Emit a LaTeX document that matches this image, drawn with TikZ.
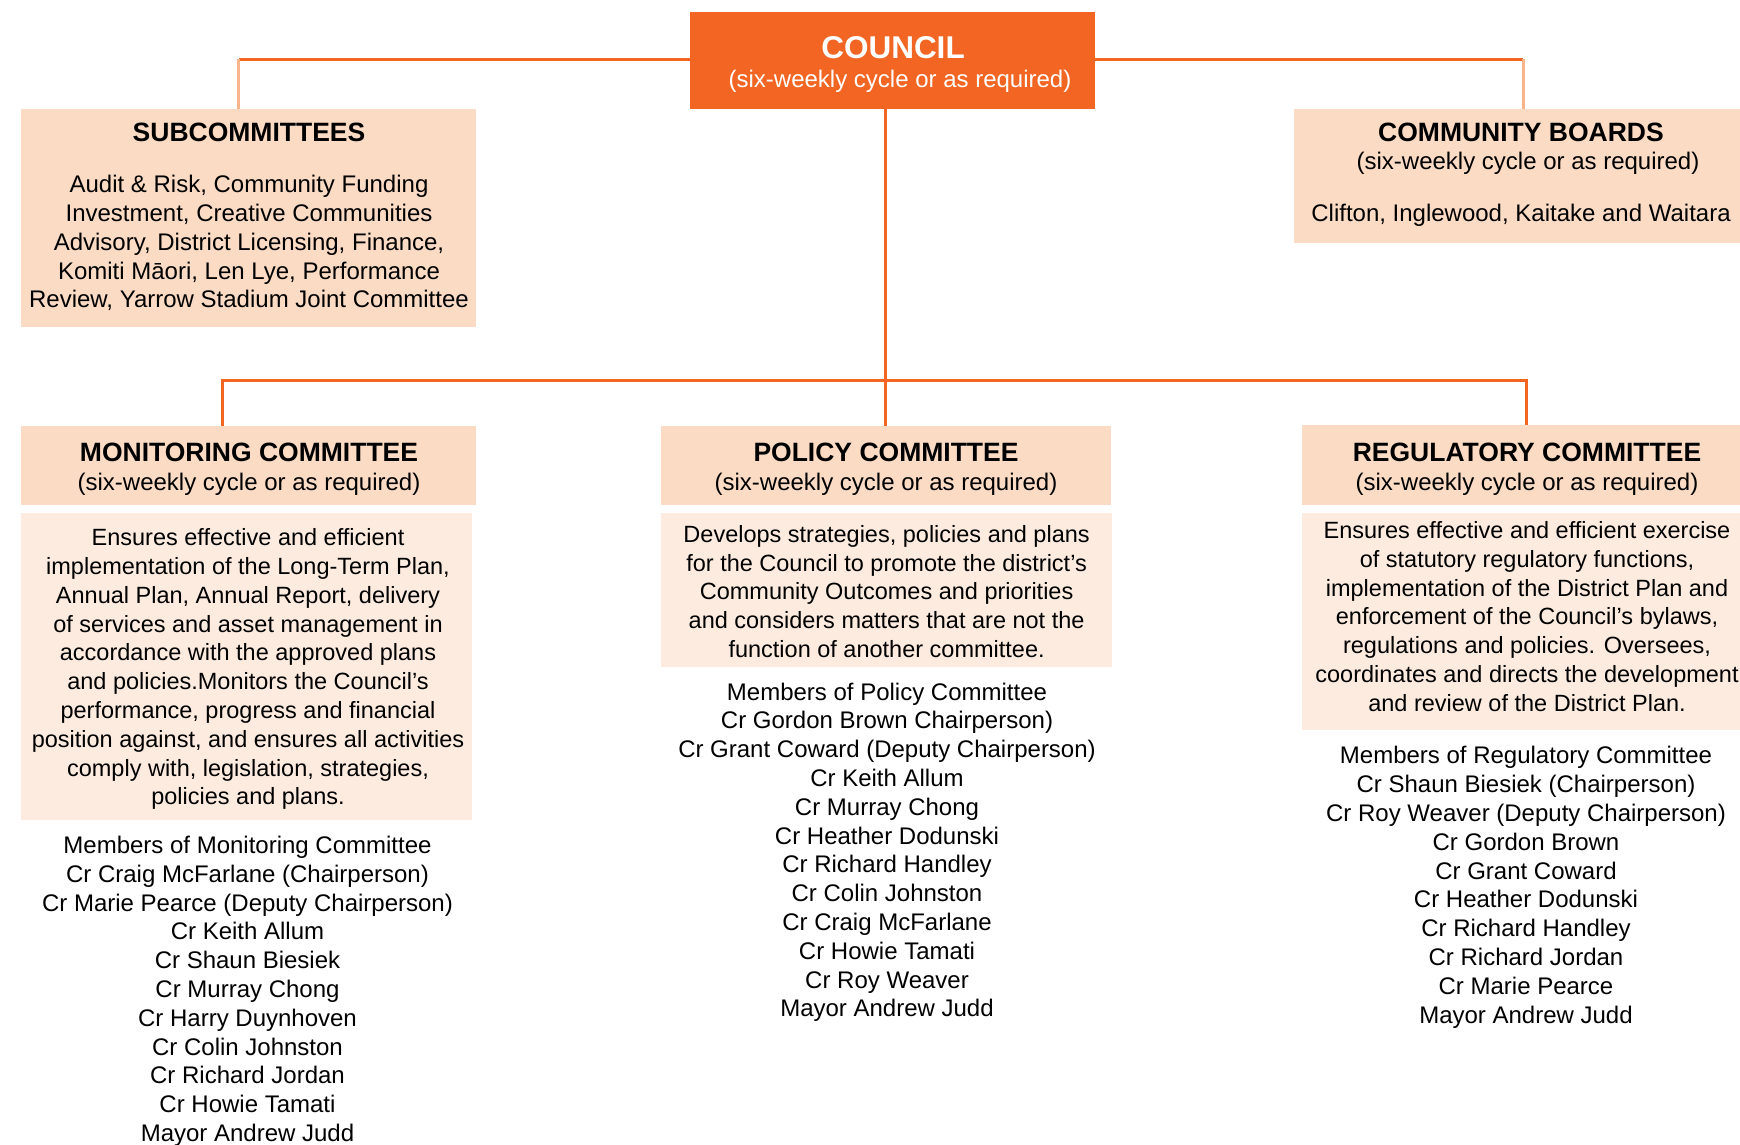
\documentclass[tikz,border=0pt]{standalone}
\usepackage{fontspec}
\setmainfont{Liberation Sans}
\definecolor{cOrange}{HTML}{F26522}
\definecolor{cLight}{HTML}{F9B48C}
\definecolor{cHead}{HTML}{FBDBC4}
\definecolor{cBody}{HTML}{FDEBDF}
\tikzset{
  box/.style={draw=none, inner sep=0pt, outer sep=0pt},
  txt/.style={inner sep=0pt, outer sep=0pt, align=center, font=\fontsize{24}{28.8}\selectfont},
  desc/.style={inner sep=0pt, outer sep=0pt, align=center, font=\fontsize{23.5}{28.8}\selectfont},
  ttl/.style={inner sep=0pt, outer sep=0pt, align=center, font=\fontsize{26.5}{30}\selectfont\bfseries},
  darkline/.style={draw=cOrange, line width=3pt},
  lightline/.style={draw=cLight, line width=3pt},
}
\begin{document}
\begin{tikzpicture}[x=1pt,y=-1pt]
\useasboundingbox (0,0) rectangle (1740,1144);
% boxes
\fill[cOrange] (690,12) rectangle (1095,109);
\coordinate (council-w) at (690,59);
\coordinate (council-e) at (1095,59);
\coordinate (council-s) at (885,109);
\fill[cHead] (21,109) rectangle (476,327);
\coordinate (sub-n) at (238.5,109);
\fill[cHead] (1294,109) rectangle (1750,243);
\coordinate (cb-n) at (1523,109);
\fill[cHead] (21,426) rectangle (476,505);
\coordinate (mon-n) at (222,426);
\fill[cBody] (21,513) rectangle (472,820);
\fill[cHead] (661,426) rectangle (1111,505);
\coordinate (pol-n) at (885,426);
\fill[cBody] (661,513) rectangle (1112,667);
\fill[cHead] (1302,425) rectangle (1750,505);
\coordinate (reg-n) at (1526,425);
\fill[cBody] (1302,513) rectangle (1750,730);
% connectors
\coordinate (jl) at (238.5,59);
\coordinate (jr) at (1523,59);
\coordinate (bl) at (222,380);
\coordinate (br) at (1526,380);
\draw[darkline] (council-w) -- (jl);
\draw[darkline] (council-e) -- (jr);
\draw[lightline] (jl) -- (sub-n);
\draw[lightline] (jr) -- (cb-n);
\draw[darkline] (council-s) -- (pol-n);
\draw[darkline] (mon-n) -- (bl) -- (br) -- (reg-n);
% texts
\node[ttl, text=white, font=\fontsize{31.5}{34}\selectfont\bfseries] (councilT) at (893,47.8) {COUNCIL};
\node[txt, text=white] (councilS) at (900,81) {(six-weekly cycle or as required)};
\node[ttl] (subT) at (249,132.2) {SUBCOMMITTEES};
\node[txt] (subB) at (249,243.2) {Audit \& Risk, Community Funding\\Investment, Creative Communities\\Advisory, District Licensing, Finance,\\Komiti Māori, Len Lye, Performance\\Review, Yarrow Stadium Joint Committee};
\node[ttl] (cbT) at (1521,132.2) {COMMUNITY BOARDS};
\node[txt] (cbS) at (1528,163.2) {(six-weekly cycle or as required)};
\node[txt] (cbB) at (1521,215.2) {Clifton, Inglewood, Kaitake and Waitara};
\node[ttl] (monT) at (249,452.8) {MONITORING COMMITTEE};
\node[txt] (monS) at (249,483.8) {(six-weekly cycle or as required)};
\node[desc] (monB) at (248,669.2) {Ensures effective and efficient\\implementation of the Long-Term Plan,\\Annual Plan, Annual Report, delivery\\of services and asset management in\\accordance with the approved plans\\and policies.Monitors the Council’s\\performance, progress and financial\\position against, and ensures all activities\\comply with, legislation, strategies,\\policies and plans.};
\node[txt] (monM) at (247.5,991.2) {Members of Monitoring Committee\\Cr Craig McFarlane (Chairperson)\\Cr Marie Pearce (Deputy Chairperson)\\Cr Keith Allum\\Cr Shaun Biesiek\\Cr Murray Chong\\Cr Harry Duynhoven\\Cr Colin Johnston\\Cr Richard Jordan\\Cr Howie Tamati\\Mayor Andrew Judd};
\node[ttl] (polT) at (886,452.8) {POLICY COMMITTEE};
\node[txt] (polS) at (886,483.8) {(six-weekly cycle or as required)};
\node[desc] (polB) at (886.6,591.5) {Develops strategies, policies and plans\\for the Council to promote the district’s\\Community Outcomes and priorities\\and considers matters that are not the\\function of another committee.};
\node[txt] (polM) at (887,852.2) {Members of Policy Committee\\Cr Gordon Brown Chairperson)\\Cr Grant Coward (Deputy Chairperson)\\Cr Keith Allum\\Cr Murray Chong\\Cr Heather Dodunski\\Cr Richard Handley\\Cr Colin Johnston\\Cr Craig McFarlane\\Cr Howie Tamati\\Cr Roy Weaver\\Mayor Andrew Judd};
\node[ttl] (regT) at (1527,452.8) {REGULATORY COMMITTEE};
\node[txt] (regS) at (1527,483.8) {(six-weekly cycle or as required)};
\node[desc] (regB) at (1527,616.4) {Ensures effective and efficient exercise\\of statutory regulatory functions,\\implementation of the District Plan and\\enforcement of the Council’s bylaws,\\regulations and policies. Oversees,\\coordinates and directs the development\\and review of the District Plan.};
\node[txt] (regM) at (1526,887.2) {Members of Regulatory Committee\\Cr Shaun Biesiek (Chairperson)\\Cr Roy Weaver (Deputy Chairperson)\\Cr Gordon Brown\\Cr Grant Coward\\Cr Heather Dodunski\\Cr Richard Handley\\Cr Richard Jordan\\Cr Marie Pearce\\Mayor Andrew Judd};
\end{tikzpicture}
\end{document}
